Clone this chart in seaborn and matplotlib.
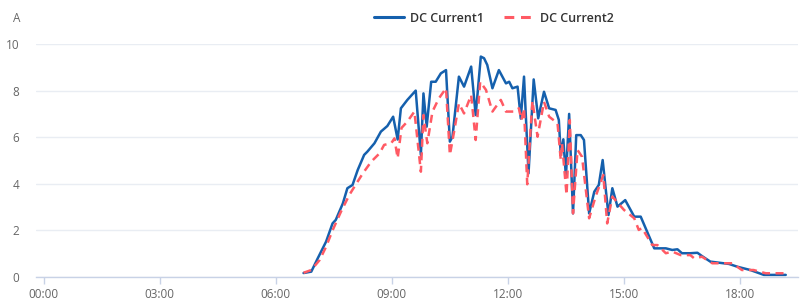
import matplotlib
matplotlib.use("Agg")
import matplotlib.pyplot as plt
import seaborn as sns
import pandas as pd
from matplotlib.lines import Line2D

# ---- data ----
times1 = ["06:43","06:55","07:05","07:18","07:28","07:33","07:44","07:51","07:59","08:07",
          "08:17","08:22","08:33","08:43","08:53","09:02","09:09","09:14","09:24","09:37",
          "09:45","09:49","09:54","10:01","10:08","10:16","10:24","10:30","10:34","10:44",
          "10:52","11:03","11:10","11:18","11:23","11:28","11:36","11:46","11:57","12:02",
          "12:07","12:15","12:20","12:25","12:32","12:40","12:47","12:56","13:04","13:14",
          "13:19","13:22","13:26","13:30","13:35","13:41","13:46","13:53","13:58","14:06",
          "14:14","14:21","14:27","14:36","14:42","14:50","15:02","15:16","15:26","15:47",
          "16:05","16:15","16:23","16:30","16:43","16:54","17:01","17:14","17:43","17:56",
          "18:16","18:37","19:11"]
current1 = [0.17,0.23,0.80,1.52,2.30,2.45,3.16,3.81,3.95,4.59,
            5.24,5.38,5.74,6.24,6.48,6.88,5.90,7.24,7.60,8.00,
            5.24,7.88,6.45,8.38,8.38,8.74,8.88,5.81,6.02,8.60,
            8.17,9.03,6.95,9.46,9.39,9.10,8.10,8.88,8.31,8.38,
            8.10,8.17,6.80,8.60,4.45,8.48,6.81,7.95,7.24,7.17,
            6.74,5.24,5.91,4.30,7.00,2.73,6.09,6.09,5.88,2.73,
            3.66,3.95,5.02,2.66,3.81,3.02,3.30,2.59,2.59,1.23,
            1.23,1.16,1.19,1.02,1.02,1.04,0.90,0.66,0.56,0.44,
            0.30,0.09,0.09]

times2 = ["06:43","06:55","07:08","07:18","07:28","07:41","07:54","08:02","08:15","08:28",
          "08:41","08:48","08:59","09:04","09:09","09:15","09:24","09:35","09:45","09:49",
          "09:55","10:03","10:13","10:24","10:30","10:37","10:44","10:52","11:03","11:10",
          "11:17","11:26","11:36","11:49","11:57","12:10","12:17","12:21","12:25","12:30",
          "12:38","12:46","12:56","13:04","13:17","13:22","13:24","13:31","13:36","13:41",
          "13:48","13:55","14:06","14:16","14:28","14:34","14:42","15:00","15:16","15:23",
          "15:28","15:44","15:52","16:05","16:15","16:28","16:43","16:49","17:01","17:17",
          "17:48","18:03","18:21","18:40","19:11"]
current2 = [0.18,0.30,0.73,1.30,2.00,2.80,3.52,3.88,4.45,4.95,
            5.31,5.67,5.74,5.95,5.10,6.40,6.67,7.10,4.52,6.95,
            5.74,7.10,7.67,8.10,5.24,6.31,7.45,7.02,7.81,5.88,
            8.38,8.03,7.10,7.60,7.10,7.10,7.24,6.74,7.24,3.98,
            7.56,6.02,7.52,6.88,6.60,5.02,5.74,3.52,6.74,2.73,
            5.45,5.16,2.52,3.45,4.38,2.30,3.45,2.88,2.52,2.02,
            2.10,1.37,1.37,1.02,1.09,0.94,0.94,0.80,0.87,0.59,
            0.59,0.30,0.30,0.16,0.16]

series_names = ["DC Current1", "DC Current2"]
tick_labels = ["00:00", "03:00", "06:00", "09:00", "12:00", "15:00", "18:00"]
y_ticks = [0, 2, 4, 6, 8, 10]
unit_label = "A"


def to_hours(t):
    h, m = t.split(":")
    return int(h) + int(m) / 60.0


df = pd.concat([
    pd.DataFrame({"hour": [to_hours(t) for t in times1], "value": current1, "series": series_names[0]}),
    pd.DataFrame({"hour": [to_hours(t) for t in times2], "value": current2, "series": series_names[1]}),
], ignore_index=True)

sns.set_theme(style="white")
plt.rcParams["font.family"] = ["Open Sans", "DejaVu Sans"]

fig = plt.figure(figsize=(8.0, 3.02), dpi=100)
ax = fig.add_axes([36 / 800, 25 / 302, 762 / 800, 233 / 302])

blue = "#1560ad"
red = "#ff5a64"

sns.lineplot(data=df, x="hour", y="value", hue="series", style="series",
             palette={series_names[0]: blue, series_names[1]: red},
             dashes={series_names[0]: "", series_names[1]: (3.2, 2.2)},
             linewidth=1.8, ax=ax, legend=False, sort=False, estimator=None)

ax.set_xlim(-0.2, 19.5)
ax.set_ylim(0, 10)
ax.set_xticks([to_hours(t) for t in tick_labels])
ax.set_xticklabels(tick_labels)
ax.set_yticks(y_ticks)
ax.set_yticklabels([str(v) for v in y_ticks])
ax.set_xlabel("")
ax.set_ylabel("")

ax.yaxis.grid(True, color="#e9edf3", linewidth=1)
ax.xaxis.grid(False)
ax.set_axisbelow(True)
for s in ["top", "right", "left"]:
    ax.spines[s].set_visible(False)
ax.spines["bottom"].set_color("#c8d2e6")
ax.spines["bottom"].set_linewidth(1)

ax.tick_params(axis="x", which="both", bottom=True, length=5, width=1, color="#c8d2e6",
               labelsize=8.5, labelcolor="#666666", pad=3)
ax.tick_params(axis="y", which="both", left=False, labelsize=8.5, labelcolor="#666666", pad=6)

fig.text(13 / 800, 1 - 19 / 302, unit_label, fontsize=8.5, color="#666666", ha="left", va="center")

handles = [Line2D([0], [0], color=blue, lw=2.2),
           Line2D([0], [0], color=red, lw=2.2, linestyle=(0, (3.2, 2.2)))]
fig.legend(handles, series_names, loc="center", bbox_to_anchor=(494 / 800, 1 - 18 / 302),
           ncol=2, frameon=False, handlelength=2.4, columnspacing=1.6,
           handletextpad=0.5, prop={"weight": "semibold", "size": 9})
for t in fig.legends[0].get_texts():
    t.set_color("#333333")

fig.savefig("out.png", dpi=100, facecolor="white")
